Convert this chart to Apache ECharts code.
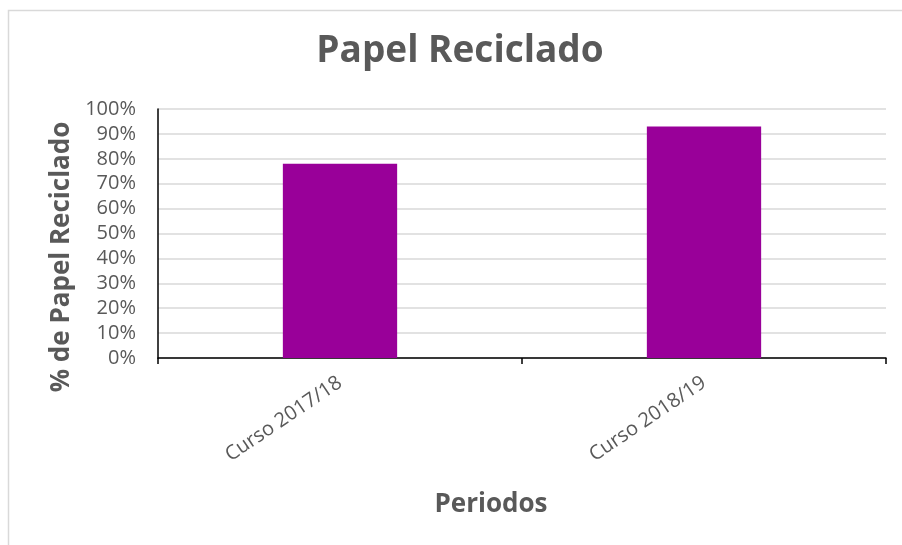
<!DOCTYPE html>
<html>
<head>
<meta charset="utf-8">
<script src="https://cdn.jsdelivr.net/npm/echarts@6/dist/echarts.min.js"></script>
<style>
html, body { margin: 0; padding: 0; background: #fff; }
#chart_div { width: 902px; height: 545px; }
</style>
</head>
<body>
<div id="chart_div"></div>
<script>
// datos del grafico
var periodos = ['Curso 2017/18', 'Curso 2018/19'];
var porcentajes = [0.78, 0.93];
var tituloTexto = 'Papel Reciclado';
var ejeX = 'Periodos';
var ejeY = '% de Papel Reciclado';

var fuente = '"Open Sans", sans-serif';
var gris = '#595959';

var myChart = echarts.init(document.getElementById('chart_div'));

var option = {
	animation: false,
	backgroundColor: '#fff',
	title: {
		text: tituloTexto,
		left: 455,
		textAlign: 'center',
		top: 28,
		textStyle: { fontFamily: fuente, fontSize: 37, fontWeight: 'bold', color: gris }
	},
	graphic: [
		// marco del grafico
		{ type: 'rect', shape: { x: 8.5, y: 10.5, width: 1000, height: 1000 },
		  style: { fill: 'none', stroke: '#d9d9d9', lineWidth: 1.5 }, silent: true },
		{ type: 'text', x: 491, y: 505, style: { text: ejeX, fontFamily: fuente, fontSize: 26, fontWeight: 'bold',
		  fill: gris, textAlign: 'center', textVerticalAlign: 'middle' } },
		{ type: 'text', x: 62, y: 257, rotation: Math.PI / 2, style: { text: ejeY, fontFamily: fuente, fontSize: 26,
		  fontWeight: 'bold', fill: gris, textAlign: 'center', textVerticalAlign: 'middle' } }
	],
	grid: { left: 158, right: 16, top: 109, bottom: 187 },
	xAxis: {
		type: 'category',
		data: periodos,
		axisLine: { lineStyle: { color: '#000', width: 1.5 } },
		axisTick: { show: true, length: 6, lineStyle: { color: '#000', width: 1.5 } },
		axisLabel: { rotate: 34, margin: 23, fontFamily: fuente, fontSize: 20, color: gris }
	},
	yAxis: {
		type: 'value',
		min: 0,
		max: 1,
		interval: 0.1,
		axisLine: { show: true, lineStyle: { color: '#000', width: 1.5 } },
		axisTick: { show: false },
		splitLine: { lineStyle: { color: '#d9d9d9', width: 1.5 } },
		axisLabel: {
			margin: 22, fontFamily: fuente, fontSize: 20, color: gris,
			formatter: function (v) { return Math.round(v * 100) + '%'; }
		}
	},
	series: [{
		type: 'bar',
		data: porcentajes,
		barWidth: '31.4%',
		itemStyle: { color: '#990099' }
	}]
};

myChart.setOption(option);
</script>
</body>
</html>
